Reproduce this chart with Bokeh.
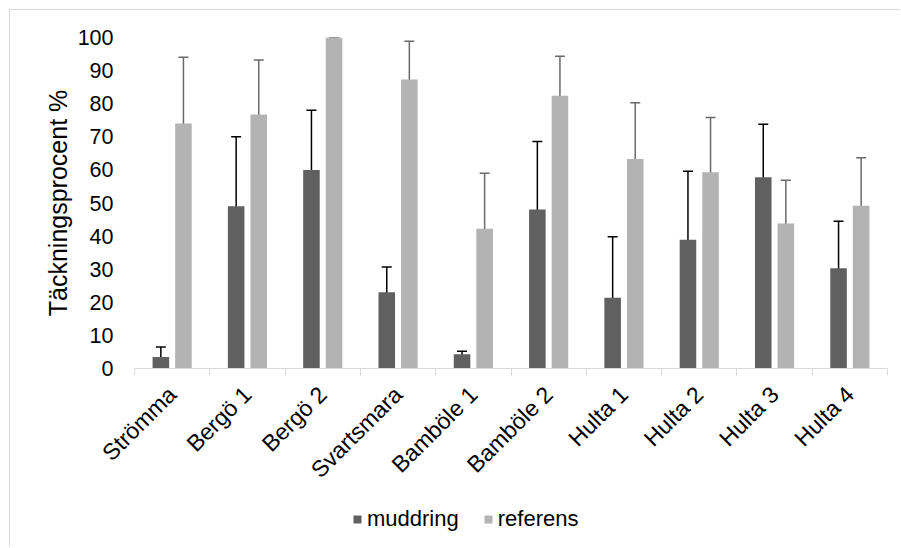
import math
from bokeh.plotting import figure
from bokeh.layouts import column
from bokeh.models import (ColumnDataSource, Range1d, FixedTicker, CustomJSTickFormatter,
                          Whisker, TeeHead, Legend, LegendItem)
from bokeh.embed import file_html
from bokeh.resources import INLINE

categories = ["Strömma", "Bergö 1", "Bergö 2", "Svartsmara", "Bamböle 1",
              "Bamböle 2", "Hulta 1", "Hulta 2", "Hulta 3", "Hulta 4"]
muddring = [3.5, 49.0, 60.0, 23.0, 4.3, 48.0, 21.4, 38.9, 57.8, 30.3]
muddring_err = [3.0, 21.0, 18.0, 7.7, 0.9, 20.6, 18.4, 20.7, 16.0, 14.2]
referens = [74.0, 76.7, 100.0, 87.3, 42.2, 82.4, 63.3, 59.3, 43.8, 49.2]
referens_err = [20.0, 16.5, 0.0, 11.6, 16.8, 11.9, 17.0, 16.5, 13.1, 14.5]
y_ticks = [0, 10, 20, 30, 40, 50, 60, 70, 80, 90, 100]
series_names = ["muddring", "referens"]

DARK = "#606060"
LIGHT = "#b3b3b3"
FONT = "Liberation Sans"

n = len(categories)
centers = [i + 0.5 for i in range(n)]
off = 0.15
bw = 0.22

src_m = ColumnDataSource(dict(
    x=[c - off for c in centers], top=muddring,
    upper=[min(v + e, 100) for v, e in zip(muddring, muddring_err)],
    lower=[v - e for v, e in zip(muddring, muddring_err)]))
src_r = ColumnDataSource(dict(
    x=[c + off for c in centers], top=referens,
    upper=[min(v + e, 100) for v, e in zip(referens, referens_err)],
    lower=[v - e for v, e in zip(referens, referens_err)]))

p = figure(width=890, height=485, x_range=Range1d(0, n), y_range=Range1d(0, 100),
           output_backend="svg", toolbar_location=None,
           min_border_left=124, min_border_right=13, min_border_top=27, min_border_bottom=127)
p.outline_line_color = None
p.xgrid.grid_line_color = None
p.ygrid.grid_line_color = None

r1 = p.vbar(x="x", top="top", width=bw, source=src_m, fill_color=DARK, line_color=None)
r2 = p.vbar(x="x", top="top", width=bw, source=src_r, fill_color=LIGHT, line_color=None)

for src, col in ((src_m, "#000000"), (src_r, "#6a6a6a")):
    w = Whisker(base="x", upper="upper", lower="lower", source=src,
                line_color=col, line_width=1.5,
                upper_head=TeeHead(size=10, line_color=col, line_width=1.5),
                lower_head=TeeHead(size=10, line_color=col, line_width=1.5))
    p.add_layout(w)

# x axis
xa = p.xaxis[0]
xa.ticker = FixedTicker(ticks=centers, minor_ticks=list(range(n + 1)))
xa.formatter = CustomJSTickFormatter(args=dict(labels=categories), code="return labels[index];")
xa.major_label_orientation = math.pi / 4
xa.major_tick_line_color = None
xa.major_tick_in = 0
xa.major_tick_out = 0
xa.minor_tick_in = 0
xa.minor_tick_out = 7
xa.minor_tick_line_color = "#d9d9d9"
xa.axis_line_color = "#d9d9d9"
xa.major_label_text_font = FONT
xa.major_label_text_font_size = "23px"
xa.major_label_text_color = "#000000"
xa.major_label_standoff = 15

# y axis
ya = p.yaxis[0]
ya.ticker = FixedTicker(ticks=y_ticks)
ya.axis_line_color = None
ya.major_tick_line_color = None
ya.minor_tick_line_color = None
ya.major_tick_in = 0
ya.major_tick_out = 0
ya.major_label_standoff = 21
ya.major_label_text_font = FONT
ya.major_label_text_font_size = "21.5px"
ya.major_label_text_color = "#000000"
ya.axis_label = "Täckningsprocent %"
ya.axis_label_text_font = FONT
ya.axis_label_text_font_style = "normal"
ya.axis_label_text_font_size = "25px"
ya.axis_label_text_color = "#000000"
ya.axis_label_standoff = 3

# legend strip below the chart (hidden proxy renderers, only the legend shows)
lf = figure(width=890, height=52, x_range=Range1d(0, n), y_range=Range1d(-20, -10),
            output_backend="svg", toolbar_location=None,
            x_axis_location=None, y_axis_location=None,
            min_border_left=0, min_border_right=0, min_border_top=0, min_border_bottom=0)
lf.outline_line_color = None
lf.xgrid.grid_line_color = None
lf.ygrid.grid_line_color = None
lr1 = lf.vbar(x="x", top="top", width=bw, source=src_m, fill_color=DARK, line_color=None)
lr2 = lf.vbar(x="x", top="top", width=bw, source=src_r, fill_color=LIGHT, line_color=None)
lr1.visible = False
lr2.visible = False
legend = Legend(items=[LegendItem(label=series_names[0], renderers=[lr1]),
                       LegendItem(label=series_names[1], renderers=[lr2])],
                orientation="horizontal", location=(218, 15),
                glyph_width=10, glyph_height=10, label_standoff=5, spacing=24,
                label_text_font=FONT, label_text_font_size="22px", label_text_color="#000000",
                background_fill_alpha=0, border_line_color=None, padding=0, margin=0,
                click_policy="none")
lf.add_layout(legend)

layout = column(p, lf, spacing=0,
                styles={"margin-left": "9px", "margin-top": "9px",
                        "border-top": "1px solid #d9d9d9", "border-left": "1px solid #d9d9d9"})

open("out.html", "w").write(file_html(layout, INLINE))
